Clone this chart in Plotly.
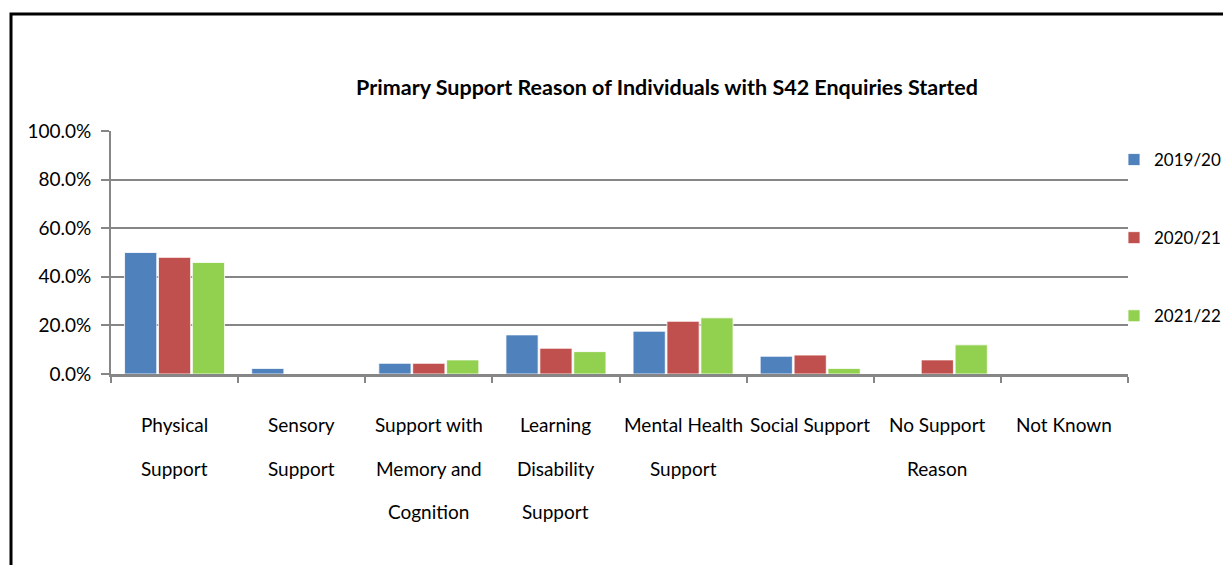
import plotly.graph_objects as go

categories = ["Physical Support", "Sensory Support", "Support with Memory and Cognition",
              "Learning Disability Support", "Mental Health Support", "Social Support",
              "No Support Reason", "Not Known"]
tick_lines = [["Physical", "Support"], ["Sensory", "Support"], ["Support with", "Memory and", "Cognition"],
              ["Learning", "Disability", "Support"], ["Mental Health", "Support"], ["Social Support"],
              ["No Support", "Reason"], ["Not Known"]]
series_names = ["2019/20", "2020/21", "2021/22"]
v2019 = [0.500, 0.023, 0.044, 0.161, 0.176, 0.073, 0.0, 0.0]
v2020 = [0.480, 0.0, 0.044, 0.106, 0.217, 0.078, 0.058, 0.0]
v2021 = [0.459, 0.0, 0.058, 0.092, 0.231, 0.023, 0.120, 0.0]
y_ticks = [0, 0.2, 0.4, 0.6, 0.8, 1.0]
colors = ["#4F81BD", "#C0504D", "#92D050"]
title_text = "Primary Support Reason of Individuals with S42 Enquiries Started"

FONT = "Lato, Roboto, sans-serif"

fig = go.Figure()
for i, (name, vals) in enumerate(zip(series_names, [v2019, v2020, v2021])):
    fig.add_trace(go.Bar(x=categories, y=vals, name=name, legendgroup=name,
                         marker=dict(color=colors[i], line=dict(color="rgba(255,255,255,0.8)", width=1))))

# page body has an 8px margin; work in page pixels and convert
OFF = 8
W, H = 1231 - OFF, 565 - OFF
PL, PR, PT, PB = 111, 1128, 131, 374  # plot area in page pixels
L, T = PL - OFF, PT - OFF
R, B = W - (PR - OFF), H - (PB - OFF)
pw, ph = PR - PL, PB - PT

def px_x(px):
    return (px - PL) / pw

def px_y(py):
    return (PB - py) / ph

annotations = []
for cat, lines in zip(categories, tick_lines):
    for j, line in enumerate(lines):
        annotations.append(dict(x=cat, xref="x", y=px_y(424 + 44 * j), yref="paper",
                                text=line, showarrow=False, yanchor="middle", xanchor="center",
                                font=dict(family=FONT, size=19, color="#000000")))

fig.update_layout(
    width=W, height=H,
    margin=dict(l=L, r=R, t=T, b=B, autoexpand=False),
    paper_bgcolor="white", plot_bgcolor="white",
    barmode="group", bargap=0.2, bargroupgap=0.05,
    title=dict(text="<b>" + title_text + "</b>", x=(667 - OFF) / W, xref="container", xanchor="center",
               y=1 - (87 - OFF) / H, yref="container", yanchor="middle",
               font=dict(family=FONT, size=21.5, color="#000000")),
    font=dict(family=FONT, size=17, color="#000000"),
    legend=dict(x=(1114 - OFF) / W, y=1 - (142 - OFF) / H, xref="container", yref="container",
                xanchor="left", yanchor="top",
                tracegroupgap=53, font=dict(family=FONT, size=17, color="#000000"),
                itemwidth=30, bgcolor="rgba(0,0,0,0)"),
    xaxis=dict(showticklabels=False, showline=True, linecolor="#868686", linewidth=3,
               ticks="outside", tickson="boundaries", ticklen=6, tickwidth=2, tickcolor="#868686",
               showgrid=False, fixedrange=True),
    yaxis=dict(range=[0, 1], tickvals=y_ticks, tickformat=".1%", showline=True,
               linecolor="#868686", linewidth=2, ticks="outside", ticklen=8, tickwidth=2,
               tickcolor="#868686", showgrid=True, gridcolor="#868686", gridwidth=2,
               zeroline=False, tickfont=dict(family=FONT, size=19, color="#000000"),
               ticklabelstandoff=6, fixedrange=True),
    annotations=annotations,
    shapes=[dict(type="rect", xref="paper", yref="paper",
                 x0=px_x(11), x1=px_x(1250), y0=px_y(600), y1=px_y(14),
                 line=dict(color="#000000", width=3), fillcolor="rgba(0,0,0,0)", layer="above")],
)

fig.write_html("out.html")
